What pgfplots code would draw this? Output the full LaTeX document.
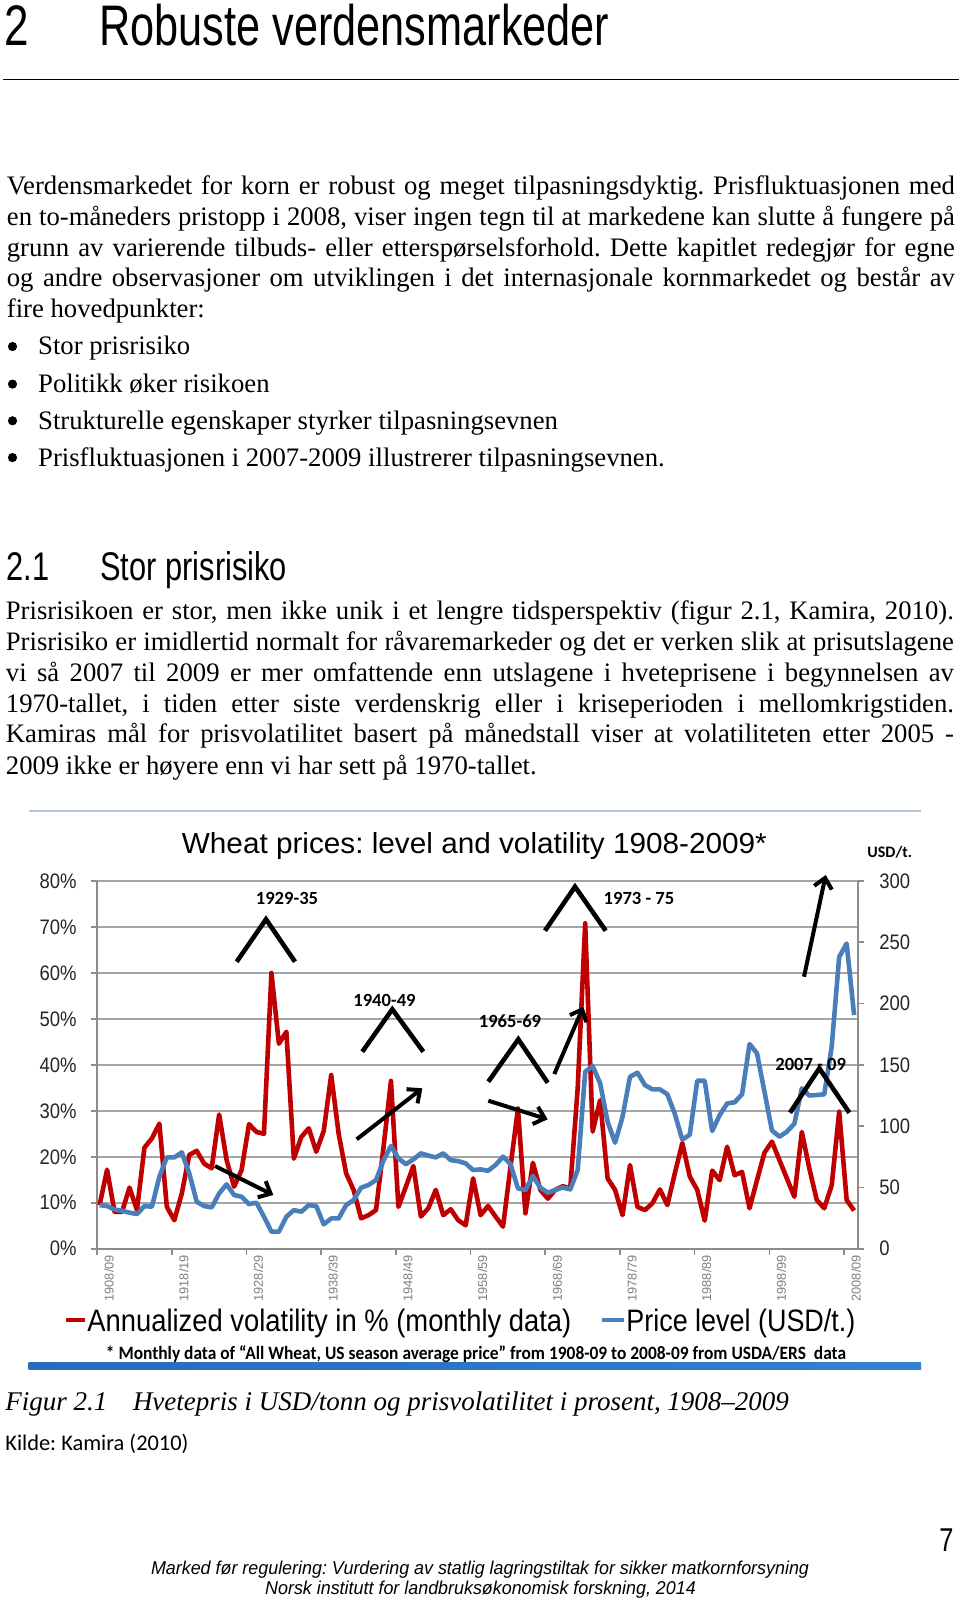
\documentclass[border=0pt]{standalone}
\usepackage{pgfplots}
\pgfplotsset{compat=1.18}
\usepackage{pgfplotstable}
\usetikzlibrary{arrows.meta}
\usepackage{fontspec}
\setmainfont{Liberation Serif}
\newfontfamily\sans{Liberation Sans}
\newfontfamily\narrow[FakeStretch=0.88]{Liberation Sans}
\newfontfamily\cond[FakeStretch=0.77]{Liberation Sans}
\newfontfamily\calib{Carlito}
\frenchspacing
\newcommand\fitw[2]{\resizebox{#1}{\height}{#2}}
\newcommand\body{\fontsize{13.35}{15.3}\selectfont}
\newcommand\lab{\calib\bfseries\fontsize{9.3}{10}\selectfont}
\newcommand\jl[3]{\node[anchor=base west, inner sep=0pt] at (#1,#2) {\body\makebox[474pt][s]{#3}};}
\newcommand\nl[3]{\node[anchor=base west, inner sep=0pt] at (#1,#2) {\body #3};}
\definecolor{vred}{HTML}{C00000}
\definecolor{pblue}{HTML}{4A7EBB}
\definecolor{gridgray}{HTML}{A5A5A5}
\definecolor{axgray}{HTML}{8C8C8C}
\definecolor{tickgray}{HTML}{7F7F7F}
\definecolor{topline}{HTML}{B4C7DC}
\definecolor{barA}{HTML}{1E62B0}
\definecolor{barB}{HTML}{3580CF}
\definecolor{barC}{HTML}{B0D2F0}
\pgfdeclarehorizontalshading{chartbar}{100bp}{color(0bp)=(barA); color(75bp)=(barB); color(100bp)=(barC)}

\pgfplotstableread{
year vol price
1908 9.5 35.6
1909 17.2 34.8
1910 8.0 32.0
1911 8.0 31.0
1912 13.3 29.4
1913 8.4 28.3
1914 22.0 34.8
1915 24.0 34.3
1916 27.2 58.7
1917 9.1 74.5
1918 6.2 74.5
1919 12.0 78.6
1920 20.4 61.5
1921 21.3 38.3
1922 18.5 34.8
1923 17.5 33.7
1924 29.2 45.1
1925 19.3 52.5
1926 13.5 43.8
1927 17.1 42.4
1928 27.1 36.4
1929 25.4 37.5
1930 25.0 26.1
1931 60.0 13.9
1932 44.6 13.9
1933 47.2 26.1
1934 19.6 31.5
1935 24.3 30.2
1936 26.2 35.6
1937 21.1 34.8
1938 25.6 19.9
1939 37.8 24.7
1940 25.0 24.7
1941 16.4 35.6
1942 12.8 39.7
1943 6.6 49.8
1944 7.3 52.0
1945 8.4 56.0
1946 22.0 72.0
1947 36.5 83.8
1948 9.1 73.7
1949 13.5 69.0
1950 18.0 72.9
1951 7.0 77.8
1952 8.8 76.0
1953 12.8 74.5
1954 7.3 77.8
1955 8.6 72.3
1956 6.2 71.5
1957 5.1 69.6
1958 15.3 64.2
1959 7.3 64.7
1960 9.3 63.6
1961 7.0 68.3
1962 4.8 75.1
1963 17.8 69.0
1964 30.5 49.2
1965 7.7 47.9
1966 18.7 59.3
1967 12.8 49.8
1968 10.9 45.7
1969 12.8 47.9
1970 13.6 50.0
1971 13.1 48.4
1972 35.0 64.2
1973 70.8 144.4
1974 25.5 149.0
1975 32.3 135.0
1976 15.3 103.6
1977 12.8 86.5
1978 7.3 107.7
1979 18.2 140.3
1980 9.1 143.6
1981 8.4 133.5
1982 9.9 130.0
1983 12.9 130.0
1984 9.5 126.0
1985 16.4 110.0
1986 23.0 89.0
1987 15.7 93.0
1988 12.8 137.0
1989 6.1 137.0
1990 17.0 96.0
1991 14.9 109.0
1992 22.2 118.5
1993 16.0 119.5
1994 16.7 126.0
1995 8.8 167.0
1996 14.9 159.4
1997 20.9 128.0
1998 23.3 96.5
1999 19.3 91.4
2000 15.3 95.5
2001 11.3 102.0
2002 25.4 130.8
2003 17.5 125.0
2004 10.6 125.4
2005 8.8 126.0
2006 13.8 165.0
2007 29.8 238.0
2008 10.6 249.0
2009 8.3 190.6
}\datatable

\begin{document}
\begin{tikzpicture}
\path[use as bounding box] (0,0) rectangle (480pt,-799.5pt);
\fill[white] (0,0) rectangle (480pt,-799.5pt);
\begin{scope}[x=0.5pt,y=-0.5pt]
  % heading
  \node[anchor=base west, inner sep=0pt] at (4,46) {\cond\fontsize{28.6}{30}\selectfont 2};
  \node[anchor=base west, inner sep=0pt] at (99,46) {\fitw{255pt}{\cond\fontsize{28.6}{30}\selectfont Robuste verdensmarkeder}};
  \draw[line width=0.9pt] (3,79.6) -- (959,79.6);
  % paragraph 1
  \jl{6.5}{195}{Verdensmarkedet for korn er robust og meget tilpasningsdyktig. Prisfluktuasjonen med}
  \jl{6.5}{225.6}{en to-måneders pristopp i 2008, viser ingen tegn til at markedene kan slutte å fungere på}
  \jl{6.5}{256.2}{grunn av varierende tilbuds- eller etterspørselsforhold. Dette kapitlet redegjør for egne}
  \jl{6.5}{286.8}{og andre observasjoner om utviklingen i det internasjonale kornmarkedet og består av}
  \nl{6.5}{317.4}{fire hovedpunkter:}
  % bullets
  \foreach \yy in {355,392.6,429.3,466.1} {\fill (12.5,\yy-8.5) circle (4.6);}
  \nl{37.8}{355}{Stor prisrisiko}
  \nl{37.8}{392.6}{Politikk øker risikoen}
  \nl{37.8}{429.3}{Strukturelle egenskaper styrker tilpasningsevnen}
  \nl{37.8}{466.1}{Prisfluktuasjonen i 2007-2009 illustrerer tilpasningsevnen.}
  % section
  \node[anchor=base west, inner sep=0pt] at (6,580.5) {\cond\fontsize{20}{22}\selectfont 2.1};
  \node[anchor=base west, inner sep=0pt] at (100,580.5) {\cond\fontsize{20}{22}\selectfont Stor prisrisiko};
  % paragraph 2
  \jl{5.5}{619}{Prisrisikoen er stor, men ikke unik i et lengre tidsperspektiv (figur 2.1, Kamira, 2010).}
  \jl{5.5}{650.7}{Prisrisiko er imidlertid normalt for råvaremarkeder og det er verken slik at prisutslagene}
  \jl{5.5}{681.3}{vi så 2007 til 2009 er mer omfattende enn utslagene i hveteprisene i begynnelsen av}
  \jl{5.5}{712}{1970-tallet, i tiden etter siste verdenskrig eller i kriseperioden i mellomkrigstiden.}
  \jl{5.5}{742.5}{Kamiras mål for prisvolatilitet basert på månedstall viser at volatiliteten etter 2005 -}
  \nl{5.5}{774.2}{2009 ikke er høyere enn vi har sett på 1970-tallet.}
  % chart frame
  \draw[topline, line width=1pt] (28.6,811) -- (921,811);
  \node[anchor=base, inner sep=0pt] at (474.4,853) {\fitw{292.5pt}{\sans\fontsize{14.5}{16}\selectfont Wheat prices: level and volatility 1908-2009*}};
  \node[anchor=base west, inner sep=0pt] at (867,857) {\calib\bfseries\fontsize{8}{9}\selectfont USD/t.};
  % legend
  \draw[vred, line width=2.2pt] (66,1320) -- (85,1320);
  \node[anchor=base west, inner sep=0pt] at (87,1331) {\fitw{242pt}{\sans\fontsize{15.5}{16}\selectfont Annualized volatility in \% (monthly data)}};
  \draw[pblue, line width=2.2pt] (602,1320) -- (624,1320);
  \node[anchor=base west, inner sep=0pt] at (626,1331) {\fitw{114.5pt}{\sans\fontsize{15.5}{16}\selectfont Price level (USD/t.)}};
  \node[anchor=base, inner sep=0pt] at (476,1359) {\fitw{370pt}{\calib\bfseries\fontsize{9.4}{10}\selectfont * Monthly data of “All Wheat, US season average price” from 1908-09 to 2008-09 from USDA/ERS\ \ data}};
  \shade[shading=chartbar] (28.6,1362) rectangle (921,1369);
  % caption
  \node[anchor=base west, inner sep=0pt] at (5,1410) {\itshape\fontsize{13.5}{15}\selectfont Figur 2.1};
  \node[anchor=base west, inner sep=0pt] at (132.6,1410) {\itshape\fontsize{13.5}{15}\selectfont Hvetepris i USD/tonn og prisvolatilitet i prosent, 1908–2009};
  \node[anchor=base west, inner sep=0pt] at (5,1450) {\calib\fontsize{11.2}{12}\selectfont Kilde: Kamira (2010)};
  % page number and footer
  \node[anchor=base east, inner sep=0pt] at (954,1551) {\cond\fontsize{16.5}{18}\selectfont 7};
  \node[anchor=base, inner sep=0pt] at (480,1574) {\fitw{329pt}{\sans\itshape\fontsize{9.3}{10}\selectfont Marked før regulering: Vurdering av statlig lagringstiltak for sikker matkornforsyning}};
  \node[anchor=base, inner sep=0pt] at (480.5,1594.6) {\fitw{215.3pt}{\sans\itshape\fontsize{9.3}{10}\selectfont Norsk institutt for landbruksøkonomisk forskning, 2014}};
\end{scope}

\begin{axis}[
  at={(48.5pt,-624.35pt)}, anchor=south west,
  scale only axis, width=380.5pt, height=183.85pt,
  xmin=1907.65, xmax=2009.52, ymin=0, ymax=80,
  axis x line*=bottom, axis y line*=left,
  axis line style={draw=axgray, line width=0.8pt},
  ytick={0,10,20,30,40,50,60,70,80},
  yticklabels={0\%,10\%,20\%,30\%,40\%,50\%,60\%,70\%,80\%},
  yticklabel style={font=\narrow\fontsize{10.5}{12}\selectfont, text=black!85, inner sep=0pt, xshift=-7pt},
  xtick={1907.65,1917.65,1927.65,1937.65,1947.65,1957.65,1967.65,1977.65,1987.65,1997.65,2007.65},
  xticklabels={1908/09,1918/19,1928/29,1938/39,1948/49,1958/59,1968/69,1978/79,1988/89,1998/99,2008/09},
  xticklabel style={rotate=90, anchor=east, font=\sans\fontsize{6.4}{7}\selectfont, text=tickgray, inner sep=0pt, yshift=-6pt},
  tick align=outside, major tick length=3pt,
  tick style={draw=axgray, line width=0.8pt},
  ymajorgrids, major grid style={draw=gridgray, line width=0.8pt},
  clip=false,
]
\addplot[vred, line width=2.3pt, line join=round, mark=none] table[x=year, y=vol] {\datatable};
\end{axis}

\begin{axis}[
  at={(48.5pt,-624.35pt)}, anchor=south west,
  scale only axis, width=380.5pt, height=183.85pt,
  xmin=1907.65, xmax=2009.52, ymin=0, ymax=300,
  axis y line*=right, axis x line=none,
  axis line style={draw=axgray, line width=0.8pt},
  ytick={0,50,100,150,200,250,300},
  yticklabels={0,50,100,150,200,250,300},
  yticklabel style={font=\narrow\fontsize{10.5}{12}\selectfont, text=black!85, inner sep=0pt, xshift=7.5pt},
  tick align=outside, major tick length=3pt,
  tick style={draw=axgray, line width=0.8pt},
  clip=false,
]
\addplot[pblue, line width=2.3pt, line join=round, mark=none] table[x=year, y=price] {\datatable};
\end{axis}

\begin{scope}[x=0.5pt,y=-0.5pt, line width=2.3pt]
  \draw (236.7,961.7) -- (266,919.3) -- (295,961.7);
  \draw (362.3,1051.7) -- (392.3,1009.3) -- (423.3,1051.7);
  \draw (488.3,1081.7) -- (518.3,1039.3) -- (547.7,1082.7);
  \draw (545,930.7) -- (575,886.7) -- (605.7,930.7);
  \draw (790,1112.7) -- (819.3,1068.3) -- (849.3,1112.7);
  \begin{scope}[line width=2pt, -{Straight Barb[length=5pt,width=9pt]}]
    \draw (215,1166) -- (273.3,1195);
    \draw (356.7,1139.3) -- (422.3,1088.3);
    \draw (488.3,1100.7) -- (547.7,1119.3);
    \draw (554.3,1074) -- (583.3,1006.7);
    \draw (804,976.7) -- (825.7,875);
  \end{scope}
  \node[anchor=base, inner sep=0pt] at (287,904) {\lab 1929-35};
  \node[anchor=base, inner sep=0pt] at (384.5,1006) {\lab 1940-49};
  \node[anchor=base, inner sep=0pt] at (510,1027) {\lab 1965-69};
  \node[anchor=base, inner sep=0pt] at (639,904) {\lab 1973 - 75};
  \node[anchor=base, inner sep=0pt] at (810.7,1070) {\lab 2007 - 09};
\end{scope}
\end{tikzpicture}
\end{document}
